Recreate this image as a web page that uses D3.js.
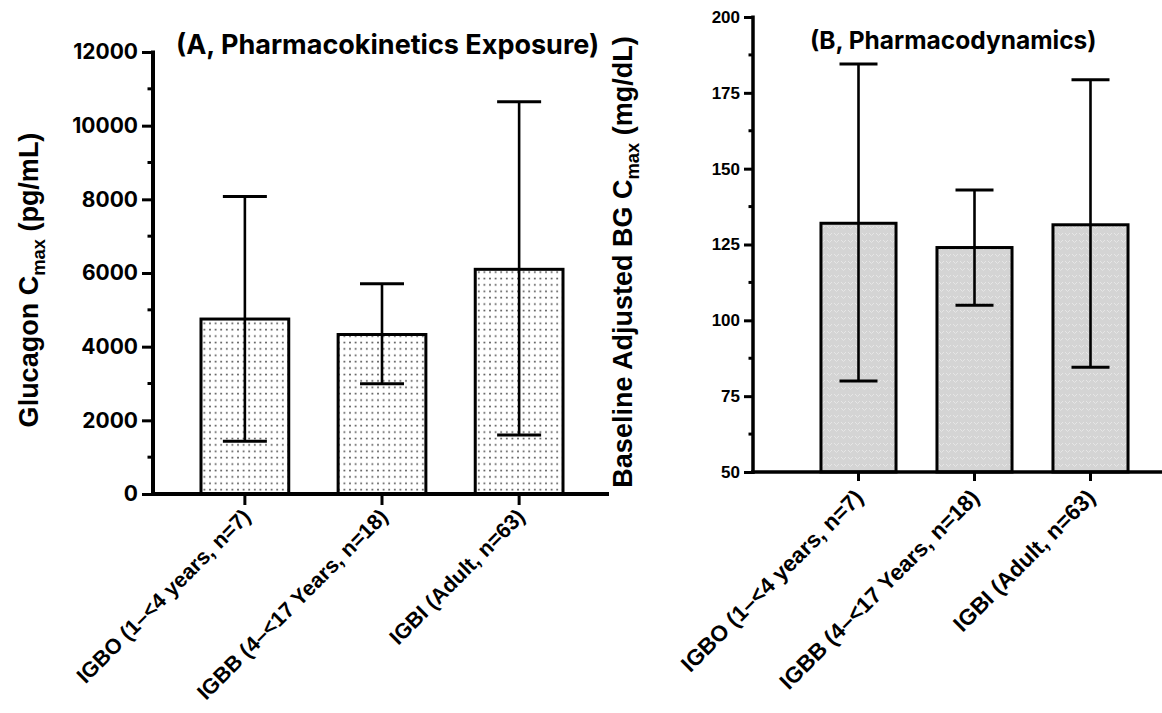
<!DOCTYPE html>
<html>
<head>
<meta charset="utf-8">
<script src="https://cdn.jsdelivr.net/npm/d3@7"></script>
<style>
  body { margin: 0; background: #fff; }
  svg { display: block; }
</style>
</head>
<body>
<div id="chart"></div>
<script>
const groups = ['IGBO (1–<4 years, n=7)', 'IGBB (4–<17 Years, n=18)', 'IGBI (Adult, n=63)']

// panel A: glucagon Cmax (pg/mL)
const pkMean = [4750, 4330, 6100]
const pkLow = [1430, 2990, 1600]
const pkHigh = [8080, 5710, 10650]
const pkTicks = [0, 2000, 4000, 6000, 8000, 10000, 12000]
const pkMinor = [1000, 3000, 5000, 7000, 9000, 11000]

// panel B: baseline adjusted BG Cmax (mg/dL)
const pdMean = [132, 124, 131.5]
const pdLow = [80, 105, 84.5]
const pdHigh = [184.5, 143, 179.3]
const pdTicks = [50, 75, 100, 125, 150, 175, 200]
const pdMinor = [62.5, 87.5, 112.5, 137.5, 162.5, 187.5]

const W = 1162, H = 713
const svg = d3.select('#chart').append('svg').attr('width', W).attr('height', H)

const defs = svg.append('defs')
const dots = defs.append('pattern')
  .attr('id', 'dots').attr('patternUnits', 'userSpaceOnUse')
  .attr('width', 5.6).attr('height', 6.4)
dots.append('rect').attr('width', 5.6).attr('height', 6.4).attr('fill', '#fff')
dots.append('rect').attr('x', 2).attr('y', 2.5).attr('width', 1.6).attr('height', 1.6).attr('fill', '#444')

const mesh = defs.append('pattern')
  .attr('id', 'mesh').attr('patternUnits', 'userSpaceOnUse')
  .attr('width', 7).attr('height', 7)
mesh.append('rect').attr('width', 7).attr('height', 7).attr('fill', '#d4d4d4')
mesh.append('path').attr('d', 'M1,2 L3.5,4.5 L6,2').attr('fill', 'none')
  .attr('stroke', '#e6e6e6').attr('stroke-width', 1)

function panel(opt) {
  const { mean, low, high, ticks, minor } = opt
  const y = d3.scaleLinear().domain(opt.domain).range([opt.bottom, opt.top])
  const x = d3.scaleBand().domain(groups)
    .range([opt.left, opt.left + opt.bandRange])
    .paddingInner(opt.pi).paddingOuter(opt.po)

  const g = svg.append('g')

  // bars
  g.selectAll('rect.bar')
    .data(groups)
    .join('rect')
    .attr('class', 'bar')
    .attr('x', d => x(d))
    .attr('y', (d, i) => y(mean[i]))
    .attr('width', x.bandwidth())
    .attr('height', (d, i) => y(opt.domain[0]) - y(mean[i]))
    .attr('fill', `url(#${opt.pattern})`)
    .attr('stroke', '#000')
    .attr('stroke-width', 3)

  // error bars
  const cx = d => x(d) + x.bandwidth() / 2
  g.selectAll('line.err')
    .data(groups)
    .join('line')
    .attr('class', 'err')
    .attr('x1', cx).attr('x2', cx)
    .attr('y1', (d, i) => y(low[i]))
    .attr('y2', (d, i) => y(high[i]))
    .attr('stroke', '#000').attr('stroke-width', 2.6)

  ;[low, high].forEach(arr => {
    g.append('g').selectAll('line')
      .data(groups)
      .join('line')
      .attr('x1', d => cx(d) - opt.cap / 2)
      .attr('x2', d => cx(d) + opt.cap / 2)
      .attr('y1', (d, i) => y(arr[i]))
      .attr('y2', (d, i) => y(arr[i]))
      .attr('stroke', '#000').attr('stroke-width', 3)
  })

  // y axis
  const ya = g.append('g')
    .attr('transform', `translate(${opt.left},0)`)
    .call(d3.axisLeft(y).tickValues(ticks).tickFormat(d3.format('d')).tickSize(opt.tick).tickPadding(4))
  ya.select('.domain').remove()
  ya.selectAll('.tick line').attr('stroke-width', 3)
  ya.selectAll('.tick text')
    .attr('font-family', opt.tickFont)
    .attr('font-weight', 700)
    .attr('font-size', opt.tickSize)
    .attr('fill', '#000')
  ya.append('g').selectAll('line')
    .data(minor)
    .join('line')
    .attr('x1', -opt.tick / 2).attr('x2', 0)
    .attr('y1', d => y(d)).attr('y2', d => y(d))
    .attr('stroke', '#000').attr('stroke-width', 3)
  ya.append('line')
    .attr('x1', 0).attr('x2', 0)
    .attr('y1', y(opt.domain[1]) - 1.5).attr('y2', y(opt.domain[0]) + 2)
    .attr('stroke', '#000').attr('stroke-width', opt.axisW)

  // x axis
  const xa = g.append('g')
    .attr('transform', `translate(0,${opt.bottom})`)
    .call(d3.axisBottom(x).tickSize(opt.tick).tickFormat(''))
  xa.select('.domain').remove()
  xa.selectAll('.tick line').attr('stroke-width', 3)
  xa.append('line')
    .attr('x1', opt.left - 2).attr('x2', opt.axisEnd)
    .attr('y1', 0).attr('y2', 0)
    .attr('stroke', '#000').attr('stroke-width', opt.axisW)

  // rotated category labels
  g.selectAll('text.cat')
    .data(groups)
    .join('text')
    .attr('class', 'cat')
    .attr('transform', d => `translate(${cx(d) + opt.labDx},${opt.bottom + opt.labDy}) rotate(-45)`)
    .attr('text-anchor', 'end')
    .attr('font-family', '"Liberation Sans", Arial, sans-serif')
    .attr('font-weight', 700)
    .attr('font-size', opt.labSize)
    .text(d => d)

  // title
  g.append('text')
    .attr('x', opt.titleX).attr('y', opt.titleY)
    .attr('font-family', 'Inter, sans-serif')
    .attr('font-weight', 700)
    .attr('font-size', opt.titleSize)
    .text(opt.title)

  // y label with subscript
  const yl = g.append('text')
    .attr('transform', `translate(${opt.ylX},${opt.ylY}) rotate(-90)`)
    .attr('text-anchor', 'middle')
    .attr('font-family', '"Liberation Sans", Arial, sans-serif')
    .attr('font-weight', 700)
    .attr('font-size', opt.ylSize)
  yl.append('tspan').text(opt.ylabel[0])
  yl.append('tspan').attr('font-size', opt.ylSize * 0.68).attr('dy', opt.ylSize * 0.25).text('max')
  yl.append('tspan').attr('dy', -opt.ylSize * 0.25).text(opt.ylabel[1])
}

panel({
  mean: pkMean, low: pkLow, high: pkHigh, ticks: pkTicks, minor: pkMinor,
  domain: [0, 12000], top: 52, bottom: 494, left: 153, bandRange: 458,
  pi: 0.36, po: 0.35, axisEnd: 609, axisW: 4, tick: 11, cap: 44,
  pattern: 'dots', tickFont: 'Inter, sans-serif', tickSize: 21,
  labDx: 7, labDy: 24, labSize: 21.5,
  title: '(A, Pharmacokinetics Exposure)', titleX: 176, titleY: 54, titleSize: 27,
  ylabel: ['Glucagon C', ' (pg/mL)'], ylX: 38, ylY: 280, ylSize: 27
})

panel({
  mean: pdMean, low: pdLow, high: pdHigh, ticks: pdTicks, minor: pdMinor,
  domain: [50, 200], top: 17, bottom: 472, left: 753, bandRange: 443,
  pi: 0.353, po: 0.586, axisEnd: 1162, axisW: 3.5, tick: 9, cap: 38,
  pattern: 'mesh', tickFont: '"Liberation Sans Narrow", "Liberation Sans", sans-serif', tickSize: 17,
  labDx: 6, labDy: 27, labSize: 22.5,
  title: '(B, Pharmacodynamics)', titleX: 810, titleY: 49, titleSize: 24.5,
  ylabel: ['Baseline Adjusted BG C', ' (mg/dL)'], ylX: 632, ylY: 262, ylSize: 27
})
</script>
</body>
</html>
